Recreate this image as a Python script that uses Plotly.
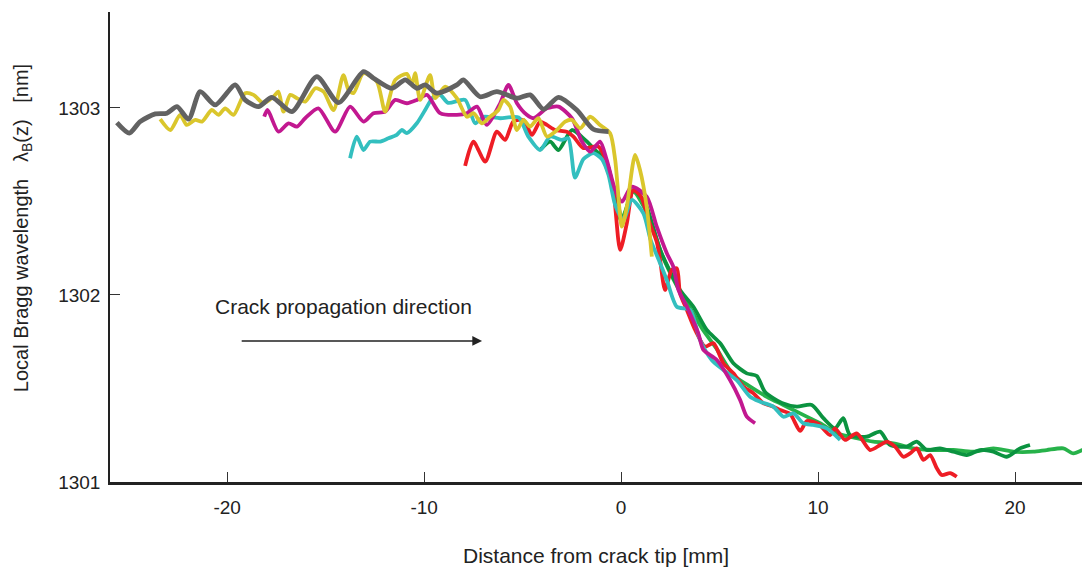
import plotly.graph_objects as go

# ---- data (distance from crack tip [mm], local Bragg wavelength [nm]) ----
gray_x = [-25.60, -24.97, -24.42, -23.65, -23.06, -22.55, -21.96, -21.37, -20.61, -19.59, -19.09,
          -18.41, -17.73, -16.72, -15.45, -14.35, -13.08, -12.57, -11.64, -10.96, -10.37, -9.95,
          -9.36, -8.34, -8.01, -7.16, -6.31, -5.29, -4.62, -3.94, -3.18, -2.25, -1.41, -0.64]
gray_y = [1302.921, 1302.865, 1302.927, 1302.968, 1302.972, 1303.007, 1302.940, 1303.087, 1303.016,
          1303.123, 1303.043, 1303.007, 1303.057, 1302.980, 1303.167, 1303.028, 1303.194, 1303.159,
          1303.105, 1303.150, 1303.105, 1303.123, 1303.079, 1303.123, 1303.150, 1303.060, 1303.087,
          1303.052, 1303.070, 1302.993, 1303.057, 1302.989, 1302.886, 1302.873]

yellow_x = [-23.40, -22.89, -22.39, -22.05, -21.62, -21.28, -20.78, -20.44, -20.10, -19.68, -19.09,
            -18.66, -18.16, -17.65, -17.40, -17.14, -16.80, -16.46, -16.04, -15.53, -15.11, -14.60,
            -14.10, -13.84, -13.59, -13.08, -12.40, -11.98, -11.47, -10.88, -10.62, -10.46, -10.20,
            -9.70, -9.44, -8.93, -8.34, -7.83, -7.50, -7.07, -6.65, -6.23, -5.97, -5.63, -5.29, -4.96,
            -4.62, -4.20, -3.77, -3.35, -2.84, -2.50, -2.08, -1.57, -1.07, -0.56, -0.30, 0.04, 0.29,
            0.71, 0.96, 1.30, 1.56]
yellow_y = [1302.940, 1302.882, 1302.963, 1302.909, 1302.936, 1302.927, 1302.989, 1302.963, 1302.998,
            1302.963, 1303.079, 1303.070, 1303.025, 1303.060, 1303.087, 1302.980, 1303.070, 1303.052,
            1303.034, 1303.105, 1303.087, 1302.989, 1303.176, 1303.096, 1303.079, 1303.186, 1303.141,
            1302.980, 1303.150, 1303.182, 1303.123, 1303.186, 1303.043, 1303.176, 1303.052, 1303.114,
            1303.052, 1302.953, 1302.972, 1302.918, 1302.953, 1302.989, 1303.043, 1303.007, 1302.882,
            1302.936, 1302.900, 1302.945, 1302.847, 1302.873, 1302.927, 1302.936, 1302.891, 1302.953,
            1302.909, 1302.865, 1302.722, 1302.365, 1302.472, 1302.749, 1302.668, 1302.472, 1302.205]

magenta_x = [-18.12, -17.95, -17.40, -16.89, -16.46, -16.04, -15.37, -14.52, -13.76, -13.08, -12.57,
             -11.98, -11.47, -10.88, -10.37, -9.86, -9.19, -8.34, -7.83, -7.32, -6.82, -6.14, -5.72,
             -5.29, -4.79, -4.45, -3.77, -3.18, -2.50, -1.99, -1.57, -1.07, -0.73, -0.30, 0.04, 0.54,
             1.30, 1.81, 2.32, 2.65, 2.91, 3.34, 3.92, 4.18, 4.86, 5.53, 6.04, 6.38, 6.80]
magenta_y = [1302.953, 1302.989, 1302.873, 1302.918, 1302.900, 1302.945, 1302.998, 1302.873, 1303.007,
             1302.927, 1302.972, 1302.980, 1303.043, 1303.025, 1303.043, 1303.070, 1302.972, 1302.963,
             1302.972, 1303.007, 1302.909, 1303.025, 1303.123, 1303.025, 1302.963, 1302.945, 1302.998,
             1303.007, 1302.945, 1302.820, 1302.766, 1302.820, 1302.722, 1302.561, 1302.499, 1302.579,
             1302.526, 1302.365, 1302.223, 1302.151, 1302.027, 1301.937, 1301.795, 1301.706, 1301.652,
             1301.545, 1301.439, 1301.349, 1301.314]

cyan_x = [-13.76, -13.42, -13.08, -12.74, -12.23, -11.81, -11.39, -11.13, -10.88, -10.37, -9.95, -9.53,
          -9.19, -8.78, -7.92, -7.41, -6.99, -6.14, -5.21, -4.71, -4.11, -3.60, -3.01, -2.68, -2.34,
          -1.91, -1.41, -0.98, -0.64, -0.30, 0.12, 0.54, 1.13, 1.50, 1.98, 2.32, 2.83, 3.50, 4.01,
          4.60, 5.19, 5.87, 6.55, 7.06, 7.73, 8.24, 8.75, 9.25, 9.76, 10.44, 11.12]
cyan_y = [1302.731, 1302.847, 1302.775, 1302.820, 1302.820, 1302.838, 1302.856, 1302.882, 1302.865,
          1302.918, 1302.989, 1303.060, 1303.070, 1303.027, 1303.043, 1302.918, 1302.953, 1302.945,
          1302.949, 1302.847, 1302.775, 1302.847, 1302.829, 1302.838, 1302.628, 1302.727, 1302.758,
          1302.727, 1302.642, 1302.481, 1302.401, 1302.508, 1302.437, 1302.294, 1302.170, 1302.080,
          1301.937, 1301.920, 1301.759, 1301.652, 1301.599, 1301.545, 1301.456, 1301.429, 1301.403,
          1301.349, 1301.367, 1301.314, 1301.305, 1301.287, 1301.225]

red_x = [-7.92, -7.50, -6.90, -6.31, -5.89, -5.47, -4.96, -4.53, -4.11, -3.77, -3.35, -2.76, -2.42,
         -1.93, -1.15, -0.73, -0.39, -0.05, 0.29, 0.62, 1.02, 1.39, 1.81, 1.98, 2.23, 2.57, 2.83, 2.99,
         3.34, 3.76, 4.26, 4.69, 5.19, 5.70, 6.21, 6.72, 7.22, 7.73, 8.07, 8.58, 9.09, 9.43, 10.02,
         10.61, 10.86, 11.37, 11.96, 12.64, 13.15, 13.49, 13.91, 14.33, 14.67, 15.01, 15.35, 15.69,
         16.03, 16.28, 16.70, 17.04]
red_y = [1302.690, 1302.820, 1302.713, 1302.873, 1302.829, 1302.927, 1302.936, 1302.856, 1302.927,
         1302.909, 1302.882, 1302.873, 1302.847, 1302.786, 1302.793, 1302.706, 1302.561, 1302.241,
         1302.383, 1302.561, 1302.524, 1302.401, 1302.283, 1302.187, 1302.027, 1302.134, 1302.143,
         1302.009, 1301.920, 1301.813, 1301.724, 1301.742, 1301.635, 1301.581, 1301.510, 1301.474,
         1301.421, 1301.403, 1301.385, 1301.364, 1301.273, 1301.326, 1301.310, 1301.251, 1301.287,
         1301.225, 1301.260, 1301.171, 1301.198, 1301.216, 1301.189, 1301.135, 1301.153, 1301.180,
         1301.118, 1301.144, 1301.073, 1301.037, 1301.047, 1301.028]

dgreen_x = [-4.11, -3.60, -3.18, -2.50, -1.83, -1.23, -0.73, -0.39, 0.04, 0.62, 1.22, 1.98, 2.99, 3.67,
            4.35, 5.03, 5.70, 6.38, 6.89, 7.31, 8.16, 8.92, 9.68, 10.27, 10.86, 11.28, 11.62, 12.47,
            13.15, 13.65, 14.50, 15.01, 15.52, 16.19, 16.87, 17.55, 18.22, 18.90, 19.58, 20.25, 20.76]
dgreen_y = [1302.775, 1302.820, 1302.775, 1302.882, 1302.829, 1302.765, 1302.706, 1302.561, 1302.390,
            1302.561, 1302.492, 1302.241, 1302.027, 1301.937, 1301.813, 1301.742, 1301.635, 1301.581,
            1301.567, 1301.481, 1301.422, 1301.403, 1301.412, 1301.341, 1301.287, 1301.341, 1301.251,
            1301.242, 1301.269, 1301.198, 1301.189, 1301.216, 1301.171, 1301.180, 1301.162, 1301.144,
            1301.171, 1301.162, 1301.135, 1301.180, 1301.198]

lgreen_x = [-1.07, -0.30, 0.05, 0.62, 1.37, 2.08, 2.89, 3.50, 4.16, 4.82, 5.70, 6.55, 7.40, 8.24, 9.09,
            10.10, 10.95, 11.96, 12.81, 13.82, 14.84, 15.85, 16.87, 17.88, 18.90, 19.91, 20.93, 21.61,
            22.45, 22.96, 23.80]
lgreen_y = [1302.775, 1302.551, 1302.412, 1302.551, 1302.428, 1302.214, 1302.037, 1301.930, 1301.813,
            1301.717, 1301.572, 1301.510, 1301.456, 1301.412, 1301.367, 1301.314, 1301.260, 1301.234,
            1301.216, 1301.207, 1301.180, 1301.171, 1301.171, 1301.162, 1301.180, 1301.162, 1301.162,
            1301.171, 1301.180, 1301.153, 1301.193]

x_ticks = [-20, -10, 0, 10, 20]
y_ticks = [1301, 1302, 1303]

series = [
    (lgreen_x, lgreen_y, "#27b24a", 3.8),
    (dgreen_x, dgreen_y, "#0b9340", 3.8),
    (red_x, red_y, "#ee1d25", 3.8),
    (cyan_x, cyan_y, "#33bfbf", 3.8),
    (magenta_x, magenta_y, "#c21890", 3.8),
    (yellow_x, yellow_y, "#dac62c", 3.8),
    (gray_x, gray_y, "#626262", 4.8),
]

fig = go.Figure()
for xs, ys, col, w in series:
    fig.add_trace(go.Scatter(x=xs, y=ys, mode="lines",
                             line=dict(color=col, width=w, shape="spline", smoothing=0.7),
                             showlegend=False, hoverinfo="skip"))

font_family = "Liberation Sans, Arial, sans-serif"

fig.update_layout(
    width=1082, height=568,
    margin=dict(l=110, r=0, t=12, b=86),
    paper_bgcolor="white", plot_bgcolor="white",
    font=dict(family=font_family, size=19, color="#222222"),
    xaxis=dict(range=[-25.95, 23.4], tickvals=x_ticks, ticktext=[str(v) for v in x_ticks],
               ticks="inside", ticklen=10, tickwidth=1.2, tickcolor="#333",
               showline=True, linecolor="#222", linewidth=2.5,
               showgrid=False, zeroline=False, ticklabelstandoff=6,
               tickfont=dict(size=19)),
    yaxis=dict(range=[1301, 1303.513], tickvals=y_ticks, ticktext=[str(v) for v in y_ticks],
               ticks="inside", ticklen=10, tickwidth=1.2, tickcolor="#333",
               showline=True, linecolor="#222", linewidth=1.5,
               showgrid=False, zeroline=False, ticklabelstandoff=4,
               tickfont=dict(size=19)),
)

# axis titles
fig.add_annotation(xref="paper", yref="paper", x=-0.0905, y=0.54,
                   xanchor="center", yanchor="middle",
                   text="Local Bragg wavelength   λ<sub>B</sub>(z)   [nm]",
                   textangle=-90, showarrow=False, font=dict(size=20, color="#222"))
fig.add_annotation(xref="paper", yref="paper", x=0.5, y=-0.157,
                   xanchor="center", yanchor="middle",
                   text="Distance from crack tip [mm]",
                   showarrow=False, font=dict(size=21, color="#222"))

fig.add_annotation(x=-14.1, y=1301.94, text="Crack propagation direction",
                   xanchor="center", yanchor="middle",
                   showarrow=False, font=dict(size=21, color="#222"))

fig.add_annotation(x=-7.06, y=1301.754, ax=-19.34, ay=1301.754, axref="x", ayref="y",
                   xref="x", yref="y", text="", showarrow=True,
                   arrowhead=2, arrowsize=1.3, arrowwidth=1.5, arrowcolor="#222")

fig.write_html("out.html")
